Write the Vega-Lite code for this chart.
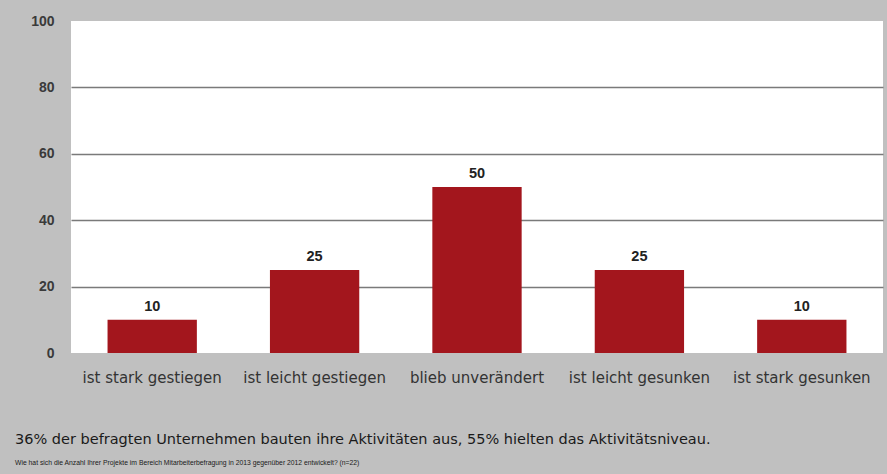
{
  "$schema": "https://vega.github.io/schema/vega-lite/v6.json",
  "autosize": {"type": "none"},
  "width": 812,
  "height": 332,
  "padding": {"left": 71, "top": 21, "right": 4, "bottom": 121},
  "background": "#c0c0c0",
  "config": {
    "view": {"fill": "white", "stroke": null},
    "font": "Liberation Sans"
  },
  "title": {
    "text": "36% der befragten Unternehmen bauten ihre Aktivitäten aus, 55% hielten das Aktivitätsniveau.",
    "subtitle": "Wie hat sich die Anzahl Ihrer Projekte im Bereich Mitarbeiterbefragung in 2013 gegenüber 2012 entwickelt? (n=22)",
    "orient": "bottom",
    "anchor": "start",
    "frame": "group",
    "dx": -56,
    "offset": 48,
    "font": "DejaVu Sans",
    "fontSize": 14.5,
    "fontWeight": "normal",
    "color": "#1a1a1a",
    "subtitleFont": "Liberation Sans",
    "subtitleFontSize": 6.8,
    "subtitleColor": "#1a1a1a",
    "subtitlePadding": 12
  },
  "data": {
    "values": [
      {"Entwicklung": "ist stark gestiegen", "Anteil": 10},
      {"Entwicklung": "ist leicht gestiegen", "Anteil": 25},
      {"Entwicklung": "blieb unverändert", "Anteil": 50},
      {"Entwicklung": "ist leicht gesunken", "Anteil": 25},
      {"Entwicklung": "ist stark gesunken", "Anteil": 10}
    ]
  },
  "encoding": {
    "x": {
      "field": "Entwicklung",
      "type": "nominal",
      "sort": null,
      "scale": {"paddingInner": 0.45, "paddingOuter": 0.225},
      "axis": {
        "title": null,
        "labelAngle": 0,
        "domain": false,
        "ticks": false,
        "labelFont": "DejaVu Sans",
        "labelFontSize": 15,
        "labelColor": "#333333",
        "labelPadding": 17
      }
    },
    "y": {
      "field": "Anteil",
      "type": "quantitative",
      "scale": {"domain": [0, 100]},
      "axis": {
        "title": null,
        "values": [0, 20, 40, 60, 80, 100],
        "domain": false,
        "ticks": false,
        "labelFontSize": 14,
        "labelFontWeight": "bold",
        "labelColor": "#3a3a3a",
        "labelPadding": 17,
        "gridColor": "#7a7a7a",
        "gridWidth": 1.5,
        "gridOpacity": {"condition": {"test": "datum.value > 0 && datum.value < 100", "value": 1}, "value": 0}
      }
    }
  },
  "layer": [
    {"mark": {"type": "bar", "color": "#a3161d"}},
    {
      "mark": {"type": "text", "baseline": "bottom", "dy": -6, "fontSize": 14.5, "fontWeight": "bold", "color": "#222222"},
      "encoding": {"text": {"field": "Anteil", "type": "quantitative"}}
    }
  ]
}
